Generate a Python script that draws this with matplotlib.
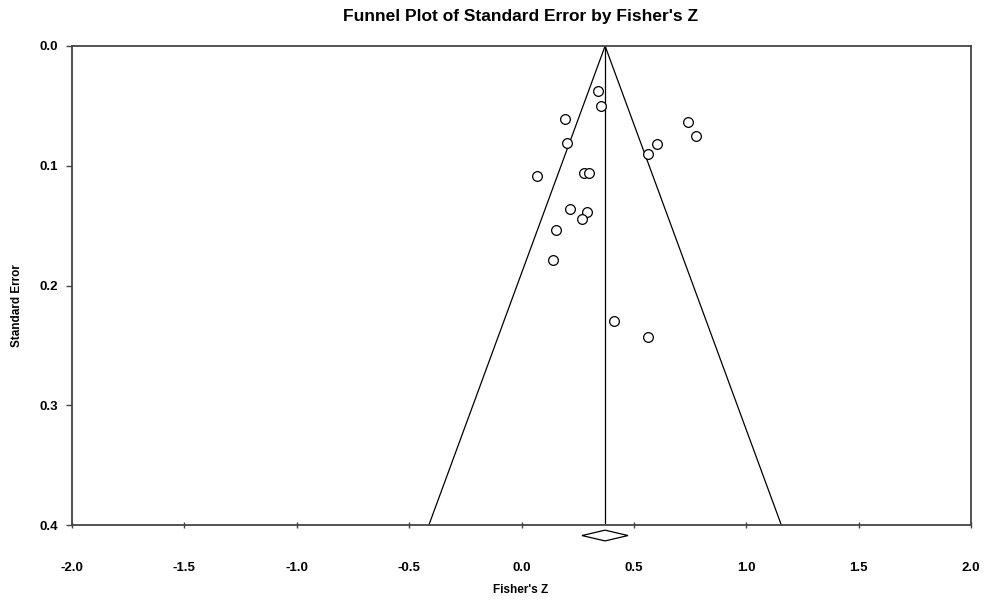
import matplotlib
matplotlib.use("Agg")
import matplotlib.pyplot as plt
import numpy as np

plt.rcParams['font.family'] = ['Liberation Sans', 'DejaVu Sans']

fisher_z = [0.342, 0.352, 0.194, 0.202, 0.068, 0.278, 0.302, 0.742, 0.776,
            0.604, 0.561, 0.216, 0.290, 0.271, 0.153, 0.142, 0.412, 0.564]
std_err = [0.0376, 0.0499, 0.0612, 0.0813, 0.1083, 0.1058, 0.1063, 0.0632, 0.0754,
           0.0818, 0.0904, 0.1359, 0.1384, 0.1442, 0.1537, 0.1787, 0.2296, 0.2428]
mean_z = 0.372
ci_low, ci_high = 0.269, 0.474
se_max = 0.4
x_ticks = [-2.0, -1.5, -1.0, -0.5, 0.0, 0.5, 1.0, 1.5, 2.0]
y_ticks = [0.0, 0.1, 0.2, 0.3, 0.4]

W, H = 984, 602
fig = plt.figure(figsize=(W/100, H/100), dpi=100)
ax = fig.add_axes([72/W, 1-525/H, (971-72)/W, (525-46)/H])

# funnel
ax.plot([mean_z - 1.96*se_max, mean_z, mean_z + 1.96*se_max], [se_max, 0, se_max],
        color='black', lw=0.9)
ax.plot([mean_z, mean_z], [0, se_max], color='black', lw=0.9)

ax.plot(fisher_z, std_err, 'o', mfc='white', mec='black', ms=7, mew=0.9, zorder=3)

# diamond below axis
diamond_y = se_max + 0.0088
dh = 0.0045
ax.fill([ci_low, mean_z, ci_high, mean_z], [diamond_y, diamond_y - dh, diamond_y, diamond_y + dh],
        facecolor='white', edgecolor='black', lw=0.9, clip_on=False, zorder=4)

ax.set_xlim(-2.0, 2.0)
ax.set_ylim(0.4, 0.0)
ax.set_xticks(x_ticks)
ax.set_xticklabels([f"{v:.1f}" for v in x_ticks])
ax.set_yticks(y_ticks)
ax.set_yticklabels([f"{v:.1f}" for v in y_ticks])

for s in ax.spines.values():
    s.set_color('#444444')
    s.set_linewidth(1.3)

ax.tick_params(axis='x', direction='inout', length=5, width=1, color='#444444', pad=24,
               labelsize=9.5)
ax.tick_params(axis='y', direction='out', length=4, width=1, color='#444444', pad=6,
               labelsize=9.5)
for lab in ax.get_xticklabels() + ax.get_yticklabels():
    lab.set_fontweight('bold')

fig.text(521/W, 1-17/H, "Funnel Plot of Standard Error by Fisher's Z", fontsize=12.5,
         fontweight='bold', ha='center', va='center')
fig.text(521/W, 1-590/H, "Fisher's Z", fontsize=8.5, fontweight='bold', ha='center', va='center')
fig.text(17/W, 1-306/H, "Standard Error", fontsize=8.5, fontweight='bold', ha='center',
         va='center', rotation=90)

fig.savefig("out.png", dpi=100)
